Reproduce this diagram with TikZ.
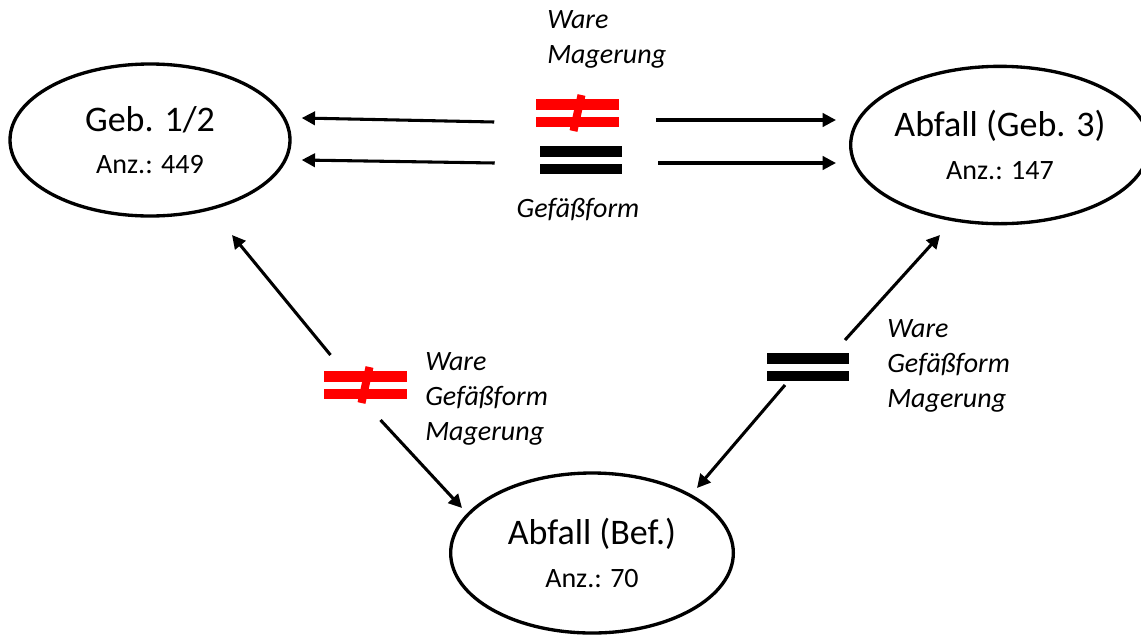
\documentclass[tikz,border=0pt]{standalone}
\usepackage{fontspec}
\setmainfont{Carlito}
\usetikzlibrary{shapes.geometric,arrows.meta,calc}

\newcommand{\titlefont}{\fontsize{27}{32}\selectfont}
\newcommand{\countfont}{\fontsize{21}{32}\selectfont}

\tikzset{
  find/.style={ellipse, draw, line width=2.5pt, inner sep=0pt,
    minimum width=210pt, minimum height=116pt, align=center, font=\countfont},
  bars/.style={inner sep=0pt, minimum width=61.5pt, minimum height=21pt},
  flow/.style={-{Triangle[length=10pt,width=10pt]}, line width=2.3pt},
  crit/.style={font=\itshape\fontsize{21}{26}\selectfont, align=left, inner sep=0pt}
}

% two bars: equal sign (#1 node, #2 colour)
\newcommand{\twobars}[2]{
  \fill[#2] (#1.north west) rectangle ($(#1.east)+(0,-3.5)$);
  \fill[#2] ($(#1.west)+(0,3.5)$) rectangle (#1.south east);
}
% crossed bars: not equal sign
\newcommand{\crossbars}[1]{
  \twobars{#1}{red}
  \draw[red, line width=6pt] ($(#1.center)+(4,-18)$) -- ($(#1.center)+(-4,18)$);
}

\begin{document}
\begin{tikzpicture}[x=0.75pt, y=-0.75pt]
\useasboundingbox (0,0) rectangle (1141,636);

% Draw the find groups
\node[find, minimum width=210pt, minimum height=114pt] (geb12) at (150,140)
  {{\titlefont Geb. 1/2}\\Anz.: 449};
\node[find, minimum width=212pt, minimum height=118pt] (geb3) at (1000,145)
  {{\titlefont Abfall (Geb. 3)}\\Anz.: 147};
\node[find, minimum width=212pt, minimum height=120pt] (bef) at (592,553)
  {{\titlefont Abfall (Bef.)}\\Anz.: 70};

% Draw the comparison signs
\node[bars] (neqTop) at (577.5,113) {};
\node[bars] (eqTop) at (581,160) {};
\node[bars] (neqLeft) at (365.5,385) {};
\node[bars] (eqRight) at (808,367) {};
\crossbars{neqTop}
\twobars{eqTop}{black}
\crossbars{neqLeft}
\twobars{eqRight}{black}

% Draw the arrows between the groups
\draw[flow] ($(neqTop.west)+(-42,9)$) -- ($(geb12.east)+(10,-22)$);
\draw[flow] ($(eqTop.west)+(-45,3)$) -- ($(geb12.east)+(10,20)$);
\draw[flow] ($(neqTop.east)+(37,7)$) -- ($(geb3.west)+(-13,-25)$);
\draw[flow] ($(eqTop.east)+(36,3)$) -- ($(geb3.west)+(-13,18)$);
\draw[flow] ($(neqLeft)+(-35,-30)$) -- ($(geb12)+(82,95)$);
\draw[flow] ($(neqLeft)+(15,35)$) -- ($(bef)+(-130,-45)$);
\draw[flow] ($(eqRight)+(37,-27)$) -- ($(geb3)+(-60,90)$);
\draw[flow] ($(eqRight)+(-23,18)$) -- ($(bef)+(105,-65)$);

% Add labels for the criteria (anchored at the last line)
\node[crit, anchor=base west] (critTop) at (547,63) {Ware\\Magerung};
\node[crit, anchor=base] (critForm) at (578,217) {Gefäßform};
\node[crit, anchor=base west] (critLeft) at (425,440) {Ware\\Gefäßform\\Magerung};
\node[crit, anchor=base west] (critRight) at (887,407) {Ware\\Gefäßform\\Magerung};

\end{tikzpicture}
\end{document}
